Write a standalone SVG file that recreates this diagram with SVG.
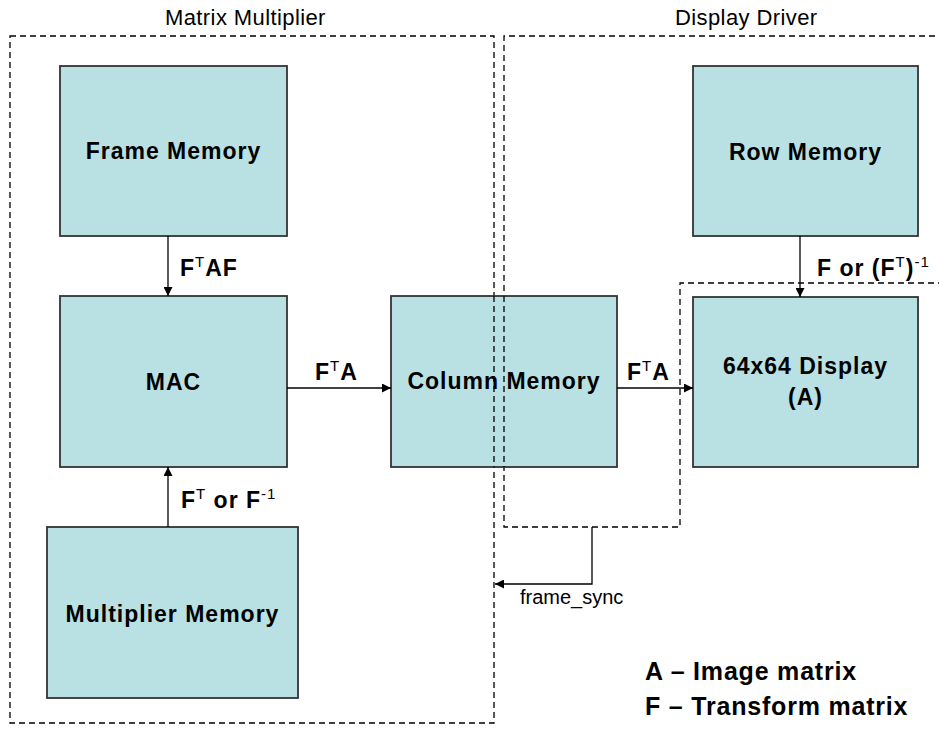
<svg xmlns="http://www.w3.org/2000/svg" width="939" height="731" viewBox="0 0 939 731">
  <defs>
    <marker id="arrow" viewBox="0 0 10 10" refX="10" refY="5" markerWidth="9" markerHeight="9" markerUnits="userSpaceOnUse" orient="auto">
      <path d="M0,0 L10,5 L0,10 Z" fill="#000"/>
    </marker>
    <style>
      .box { fill: #b9e0e3; stroke: #333; stroke-width: 1.8; }
      .lbl { font-family: "Liberation Sans", Arial, sans-serif; font-weight: bold; font-size: 23px; letter-spacing: 1px; fill: #000; }
      .title { font-family: "Liberation Sans", Arial, sans-serif; font-size: 22px; letter-spacing: 0.4px; fill: #000; }
      .small { font-family: "Liberation Sans", Arial, sans-serif; font-size: 20px; fill: #000; }
      .legend { font-family: "Liberation Sans", Arial, sans-serif; font-weight: bold; font-size: 25px; letter-spacing: 0.8px; fill: #000; }
      .sup { font-size: 15px; font-weight: normal; }
      .bound { fill: none; stroke: #000; stroke-width: 1.3; stroke-dasharray: 6 4; }
      .wire { fill: none; stroke: #000; stroke-width: 1.3; marker-end: url(#arrow); }
    </style>
  </defs>
  <rect width="939" height="731" fill="#fff"/>

  <!-- subsystem boundaries -->
  <g id="matrix-multiplier">
    <rect class="bound" x="10" y="36" width="484" height="687"/>
    <text class="title" x="165" y="25">Matrix Multiplier</text>
  </g>
  <g id="display-driver">
    <path class="bound" d="M945,36 H504 V527 H680 V283 H945"/>
    <text class="title" x="675" y="25">Display Driver</text>
  </g>

  <!-- blocks -->
  <g id="frame-memory">
    <rect class="box" x="60" y="66" width="227" height="170"/>
    <text class="lbl" x="173.5" y="159" text-anchor="middle">Frame Memory</text>
  </g>
  <g id="mac">
    <rect class="box" x="60" y="296" width="227" height="171"/>
    <text class="lbl" x="173.5" y="390" text-anchor="middle">MAC</text>
  </g>
  <g id="multiplier-memory">
    <rect class="box" x="47" y="527" width="251" height="171"/>
    <text class="lbl" x="172.5" y="622" text-anchor="middle">Multiplier Memory</text>
  </g>
  <g id="column-memory">
    <rect class="box" x="391" y="296" width="226" height="171"/>
    <text class="lbl" x="504" y="389" text-anchor="middle">Column Memory</text>
  </g>
  <g id="row-memory">
    <rect class="box" x="693" y="66" width="225" height="170"/>
    <text class="lbl" x="805.5" y="160" text-anchor="middle">Row Memory</text>
  </g>
  <g id="display">
    <rect class="box" x="693" y="297" width="225" height="170"/>
    <text class="lbl" x="805.5" y="374" text-anchor="middle">64x64 Display</text>
    <text class="lbl" x="805.5" y="405" text-anchor="middle">(A)</text>
  </g>

  <!-- Column Memory sits on the boundary: redraw its dashed edges over the block -->
  <g id="boundary-overlay">
    <path class="bound" d="M494,296 V467"/>
    <path class="bound" d="M504,296 V467"/>
  </g>

  <!-- connectors -->
  <g id="connectors">
    <path class="wire" d="M168,236 V296"/>
    <path class="wire" d="M168,527 V467"/>
    <path class="wire" d="M287,388 H391"/>
    <path class="wire" d="M617,388 H693"/>
    <path class="wire" d="M800,236 V297"/>
    <path class="wire" d="M592,527 V584 H495"/>

    <text class="lbl" x="180" y="276">F<tspan class="sup" dy="-9">T</tspan><tspan dy="9">AF</tspan></text>
    <text class="lbl" x="315" y="380">F<tspan class="sup" dy="-9">T</tspan><tspan dy="9">A</tspan></text>
    <text class="lbl" x="627" y="380">F<tspan class="sup" dy="-9">T</tspan><tspan dy="9">A</tspan></text>
    <text class="lbl" x="817" y="276">F or (F<tspan class="sup" dy="-9">T</tspan><tspan dy="9">)</tspan><tspan class="sup" dy="-9">-1</tspan></text>
    <text class="lbl" x="181" y="508">F<tspan class="sup" dy="-9">T</tspan><tspan dy="9"> or F</tspan><tspan class="sup" dy="-9">-1</tspan></text>
    <text class="small" x="520" y="604">frame_sync</text>
  </g>

  <!-- key -->
  <g id="legend">
    <text class="legend" x="645" y="680">A – Image matrix</text>
    <text class="legend" x="645" y="715">F – Transform matrix</text>
  </g>
</svg>
